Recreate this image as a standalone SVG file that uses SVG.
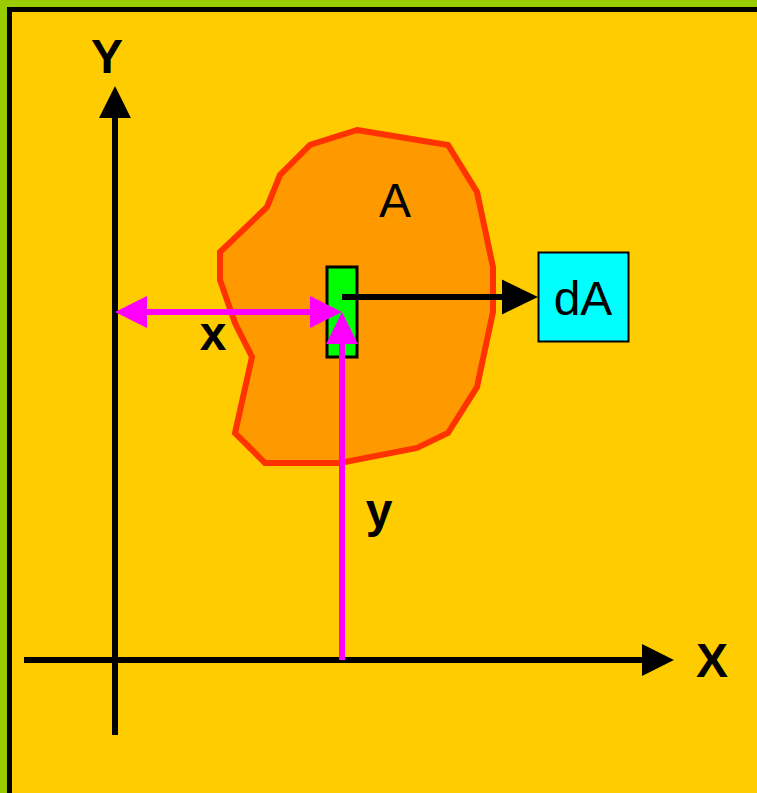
<svg xmlns="http://www.w3.org/2000/svg" width="757" height="793" viewBox="0 0 757 793">
<style>
.lbl{font-family:"Liberation Sans",Arial,sans-serif;font-size:48px;text-anchor:middle;fill:#000}
.b{font-weight:bold}
.axis{stroke:#000;stroke-width:6;fill:none}
.pink{stroke:#FF00FF;stroke-width:6;fill:none}
</style>
<defs>
<marker id="ah" markerUnits="userSpaceOnUse" markerWidth="32" markerHeight="32" viewBox="0 0 30 30" refX="1" refY="15" orient="auto"><path d="M0,0 L30,15 L0,30 Z" fill="#000"/></marker>
<marker id="ah2" markerUnits="userSpaceOnUse" markerWidth="36" markerHeight="36" viewBox="0 0 35 34" refX="1" refY="17" orient="auto"><path d="M0,0 L35,17 L0,34 Z" fill="#000"/></marker>
<marker id="ph" markerUnits="userSpaceOnUse" markerWidth="32" markerHeight="32" viewBox="0 0 30 30" refX="1" refY="15" orient="auto-start-reverse"><path d="M0,0 L30,15 L0,30 Z" fill="#FF00FF"/></marker>
</defs>
<rect width="757" height="793" fill="#99CC00"/>
<rect x="9.5" y="9.5" width="800" height="800" fill="#FFCC00" stroke="#000" stroke-width="5"/>
<g id="region-A">
<polygon points="357,130 448,145 477,192 493,267 493,312 477,387 448,433 417,448 340,463 265,463 235,433 252,357 235,323 220,280 220,252 267,207 280,175 310,145" fill="#FF9900" stroke="#FF3300" stroke-width="6" stroke-linejoin="miter"/>
<text class="lbl" x="395" y="217">A</text>
</g>
<g id="element-dA-small">
<rect x="327" y="267" width="30" height="90" fill="#00FF00" stroke="#000" stroke-width="3"/>
</g>
<g id="node-dA">
<rect x="538.5" y="252.5" width="90" height="89" fill="#00FFFF" stroke="#000" stroke-width="2"/>
<text class="lbl" x="583" y="315">dA</text>
</g>
<g id="labels">
<text class="lbl b" x="107" y="73">Y</text>
<text class="lbl b" x="712" y="677">X</text>
<text class="lbl b" x="213" y="350">x</text>
<text class="lbl b" x="379" y="527">y</text>
</g>
<g id="connectors">
<line class="axis" x1="115" y1="735" x2="115" y2="117" marker-end="url(#ah)"/>
<line class="axis" x1="24" y1="660" x2="643" y2="660" marker-end="url(#ah)"/>
<line class="axis" x1="342" y1="297" x2="503" y2="297" marker-end="url(#ah2)"/>
<line class="pink" x1="146" y1="312" x2="311" y2="312" marker-start="url(#ph)" marker-end="url(#ph)"/>
<line class="pink" x1="342" y1="660" x2="342" y2="343" marker-end="url(#ph)"/>
</g>
</svg>
